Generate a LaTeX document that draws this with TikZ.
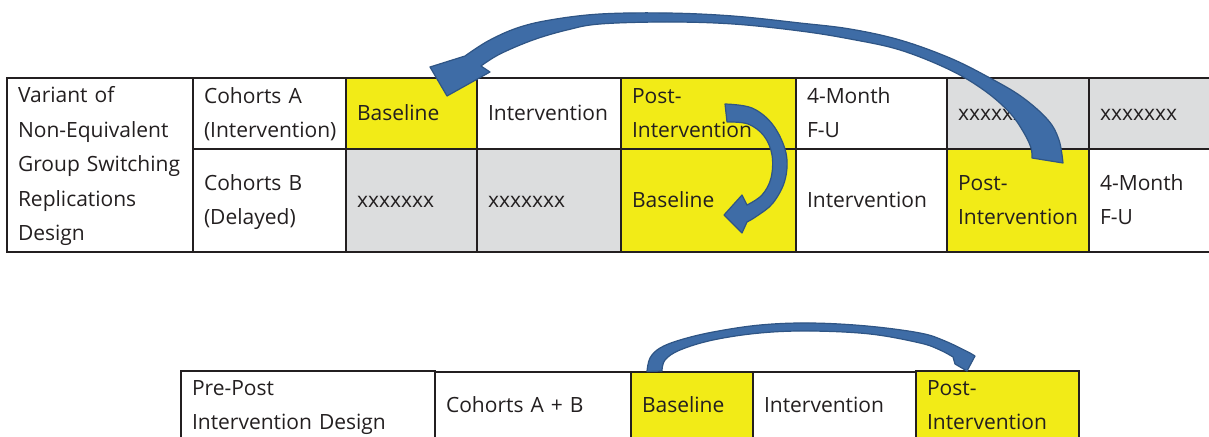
\documentclass[tikz,border=0pt]{standalone}
\usepackage{fontspec}
\setmainfont{Open Sans}
\usetikzlibrary{positioning}
\definecolor{cellyellow}{RGB}{242,235,23}
\definecolor{cellgray}{RGB}{220,221,222}
\definecolor{arrowblue}{RGB}{62,108,166}
\definecolor{arrowedge}{RGB}{47,85,133}
\definecolor{ink}{RGB}{35,31,32}
\tikzstyle{cell} = [rectangle, draw=ink, line width=2pt, outer sep=0pt,
    inner xsep=11pt, inner ysep=0pt, align=left, text=ink,
    font=\fontsize{21}{34.5}\selectfont,
    execute at begin node=\strut, execute at end node=\strut]
\tikzstyle{rowa} = [cell, minimum height=71pt]
\tikzstyle{rowb} = [cell, minimum height=103pt]
\tikzstyle{rowc} = [cell, minimum height=68pt]
\tikzstyle{yellowcell} = [fill=cellyellow]
\tikzstyle{graycell} = [fill=cellgray]
\tikzstyle{swoop} = [fill=arrowblue, draw=arrowedge, line width=1.2pt,
    line join=round]

\begin{document}
\begin{tikzpicture}[x=1pt, y=-1pt, node distance=0pt]
  \useasboundingbox (0,0) rectangle (1209,436);
  % Place cells, switching replications design
  \node [cell, text width=164pt, minimum height=174pt, anchor=north west] (variant) at (7,78)
  {Variant of\\Non-Equivalent\\Group Switching\\Replications\\Design};
  \node [rowa, text width=131pt, anchor=north west] (coha) at (variant.north east)
  {Cohorts A\\(Intervention)};
  \node [rowa, yellowcell, text width=109pt, right=of coha] (basea) {Baseline};
  \node [rowa, text width=122pt, right=of basea] (inta) {Intervention};
  \node [rowa, yellowcell, text width=153pt, right=of inta] (posta) {Post-\\Intervention};
  \node [rowa, text width=129pt, right=of posta] (fua) {4-Month\\F-U};
  \node [rowa, graycell, text width=120pt, right=of fua] (offa) {xxxxxxx};
  \node [rowa, graycell, text width=120pt, right=of offa] (offb) {xxxxxxx};
  \node [rowb, text width=131pt, below=of coha] (cohb) {Cohorts B\\(Delayed)};
  \node [rowb, graycell, text width=109pt, below=of basea] (offc) {xxxxxxx};
  \node [rowb, graycell, text width=122pt, below=of inta] (offd) {xxxxxxx};
  \node [rowb, yellowcell, text width=153pt, below=of posta] (baseb) {Baseline};
  \node [rowb, text width=129pt, below=of fua] (intb) {Intervention};
  \node [rowb, yellowcell, text width=120pt, below=of offa] (postb) {Post-\\Intervention};
  \node [rowb, text width=120pt, below=of offb] (fub) {4-Month\\F-U};
  % Place cells, pre-post design
  \node [rowc, text width=232pt, anchor=north west] (prepost) at (181,371)
  {Pre-Post\\Intervention Design};
  \node [rowc, text width=174pt, right=of prepost] (cohab) {Cohorts A + B};
  \node [rowc, yellowcell, text width=100pt, right=of cohab] (basec) {Baseline};
  \node [rowc, text width=141pt, right=of basec] (intc) {Intervention};
  \node [rowc, yellowcell, text width=141pt, right=of intc] (postc) {Post-\\Intervention};
  % Draw arrows
  \draw [swoop] ([xshift=45pt,yshift=-14pt]postb.north)
    -- plot [smooth, tension=0.6] coordinates {(1063,163) (1059,140) (1048,120) (1022,97)
      (990,78) (950,58) (900,40) (850,29) (800,23) (733,16) (667,13) (600,14) (550,20)
      (517,28) (488,41) (465,56)}
    -- (430,67) -- ([xshift=35.5pt,yshift=-18pt]basea.north) -- (490,72) -- (481,66)
    -- plot [smooth, tension=0.6] coordinates {(481,66) (500,54) (533,40) (567,30) (600,24)
      (667,22) (733,24) (800,31) (850,39) (900,50) (950,70) (985,91) (1010,113) (1024,133)
      (1031,148) (1032,158)}
    -- cycle;
  \draw [swoop] ([xshift=16.5pt,yshift=9.5pt]posta.center)
    -- plot [smooth, tension=0.6] coordinates {(725,104) (752,108) (773,125) (786,153)
      (785,180) (773,203) (757,216) (747,222)}
    -- (742,233) -- ([xshift=15.5pt,yshift=-14.5pt]baseb.center) -- (742,195) -- (747,205)
    -- plot [smooth, tension=0.6] coordinates {(747,205) (762,195) (771,178) (772,155)
      (764,136) (748,124) (727,122)}
    -- cycle;
  \draw [swoop] ([xshift=-45pt]basec.north)
    -- plot [smooth, tension=0.6] coordinates {(647,371) (650,358) (660,348) (680,340)
      (713,332) (760,325) (810,323) (867,326) (920,333) (945,341) (970,353)}
    -- (975,356) -- ([xshift=-30.5pt]postc.north) -- (955,364) -- (953,357)
    -- plot [smooth, tension=0.6] coordinates {(953,357) (940,350) (920,343) (870,334)
      (810,331) (760,333) (713,340) (680,350) (665,360) (662,371)}
    -- cycle;
\end{tikzpicture}
\end{document}
